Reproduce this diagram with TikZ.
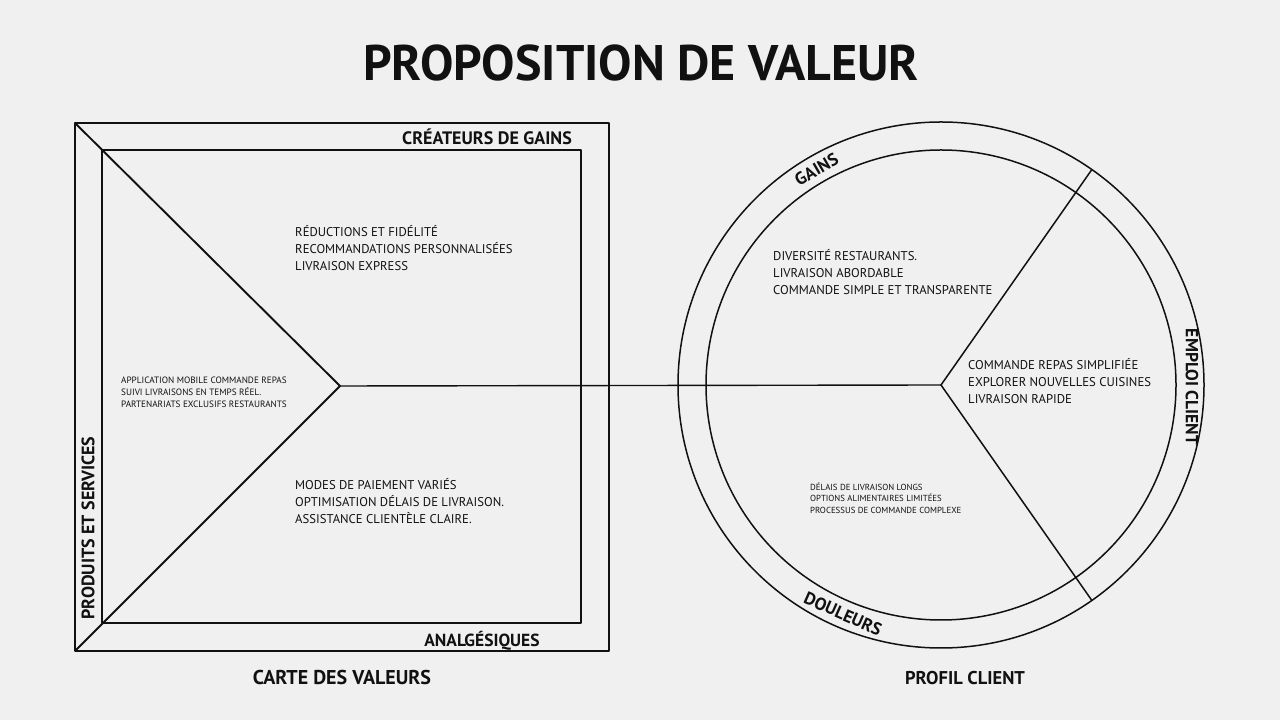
\documentclass[tikz,border=0pt]{standalone}
\usepackage{fontspec}
\setmainfont{PT Sans}
\usetikzlibrary{calc}
\definecolor{bg}{HTML}{F0F0F0}
\definecolor{ink}{HTML}{111111}
\tikzset{
  sq/.style={draw=ink, line width=1.9pt, line join=round},
  ring/.style={draw=ink, line width=1.5pt},
  conn/.style={draw=ink, line width=1.4pt},
  lbl/.style={inner sep=0pt, text=ink, font=\bfseries\fontsize{17.5}{19}\selectfont},
  midtxt/.style={inner sep=0pt, text=ink, align=left, font=\fontsize{12.7}{17}\selectfont},
  smalltxt/.style={inner sep=0pt, text=ink, align=left, font=\fontsize{9.2}{12}\selectfont},
  titletxt/.style={inner sep=0pt, text=ink, font=\bfseries\fontsize{50}{54}\selectfont}
}
\begin{document}
\begin{tikzpicture}[x=1pt,y=1pt]
\fill[bg] (0,0) rectangle (1280,720);
\useasboundingbox (0,0) rectangle (1280,720);

% title
\node[titletxt] (title) at (641,657) {PROPOSITION DE VALEUR};

% value map (square)
\coordinate (otl) at (75,597);
\coordinate (obl) at (75,69);
\coordinate (otr) at (609,597);
\coordinate (obr) at (609,69);
\coordinate (itl) at (102,570);
\coordinate (ibl) at (102,97);
\coordinate (itr) at (581,570);
\coordinate (ibr) at (581,97);
\coordinate (vtx) at (340,334);
\draw[sq] (otl) rectangle (obr);
\draw[sq] (itl) rectangle (ibr);
\draw[sq] (otl) -- (vtx) -- (obl);

% customer profile (circle)
\coordinate (cc) at (941,335);
\node[circle, ring, minimum size=526pt, inner sep=0pt] (outer) at (cc) {};
\node[circle, ring, minimum size=470pt, inner sep=0pt] (inner) at (cc) {};
\coordinate (rup) at ($(cc)+(55:263)$);
\coordinate (rdn) at ($(cc)+(-55:263)$);
\draw[ring] (rup) -- (cc) -- (rdn);

% connector between the two
\draw[conn] (vtx) -- (cc);

% labels of the value map
\node[lbl, font=\bfseries\fontsize{18}{19}\selectfont, anchor=east] (crea) at (572,583) {CRÉATEURS DE GAINS};
\node[lbl] (anal) at (482,79) {ANALGÉSIQUES};
\node[lbl, font=\bfseries\fontsize{18}{19}\selectfont, rotate=90] (prod) at (88,192) {PRODUITS ET SERVICES};
\node[lbl, font=\bfseries\fontsize{20}{22}\selectfont] (carte) at (342,42) {CARTE DES VALEURS};

\node[smalltxt, anchor=west] (ps) at (121,328) {APPLICATION MOBILE COMMANDE REPAS\\SUIVI LIVRAISONS EN TEMPS RÉEL.\\PARTENARIATS EXCLUSIFS RESTAURANTS};
\node[midtxt, anchor=west] (gc) at (295,472) {RÉDUCTIONS ET FIDÉLITÉ\\RECOMMANDATIONS PERSONNALISÉES\\LIVRAISON EXPRESS};
\node[midtxt, anchor=west] (pr) at (295,219) {MODES DE PAIEMENT VARIÉS\\OPTIMISATION DÉLAIS DE LIVRAISON.\\ASSISTANCE CLIENTÈLE CLAIRE.};

% labels of the customer profile
\node[lbl, font=\bfseries\fontsize{18.5}{20}\selectfont] (profil) at (965,42) {PROFIL CLIENT};
\node[lbl, rotate=-90] (emploi) at (1192,333) {EMPLOI CLIENT};
\node[lbl, rotate=30] (gainslbl) at ($(cc)+(120:249)$) {GAINS};
\node[lbl, rotate=-24] (douleurs) at ($(cc)+(246.8:249)$) {DOULEURS};

\node[midtxt, anchor=west] (gains) at (773,448) {DIVERSITÉ RESTAURANTS.\\LIVRAISON ABORDABLE\\COMMANDE SIMPLE ET TRANSPARENTE};
\node[midtxt, anchor=west] (jobs) at (968,339) {COMMANDE REPAS SIMPLIFIÉE\\EXPLORER NOUVELLES CUISINES\\LIVRAISON RAPIDE};
\node[smalltxt, font=\fontsize{8.8}{11.5}\selectfont, anchor=west] (pains) at (810,222) {DÉLAIS DE LIVRAISON LONGS\\OPTIONS ALIMENTAIRES LIMITÉES\\PROCESSUS DE COMMANDE COMPLEXE};
\end{tikzpicture}
\end{document}
